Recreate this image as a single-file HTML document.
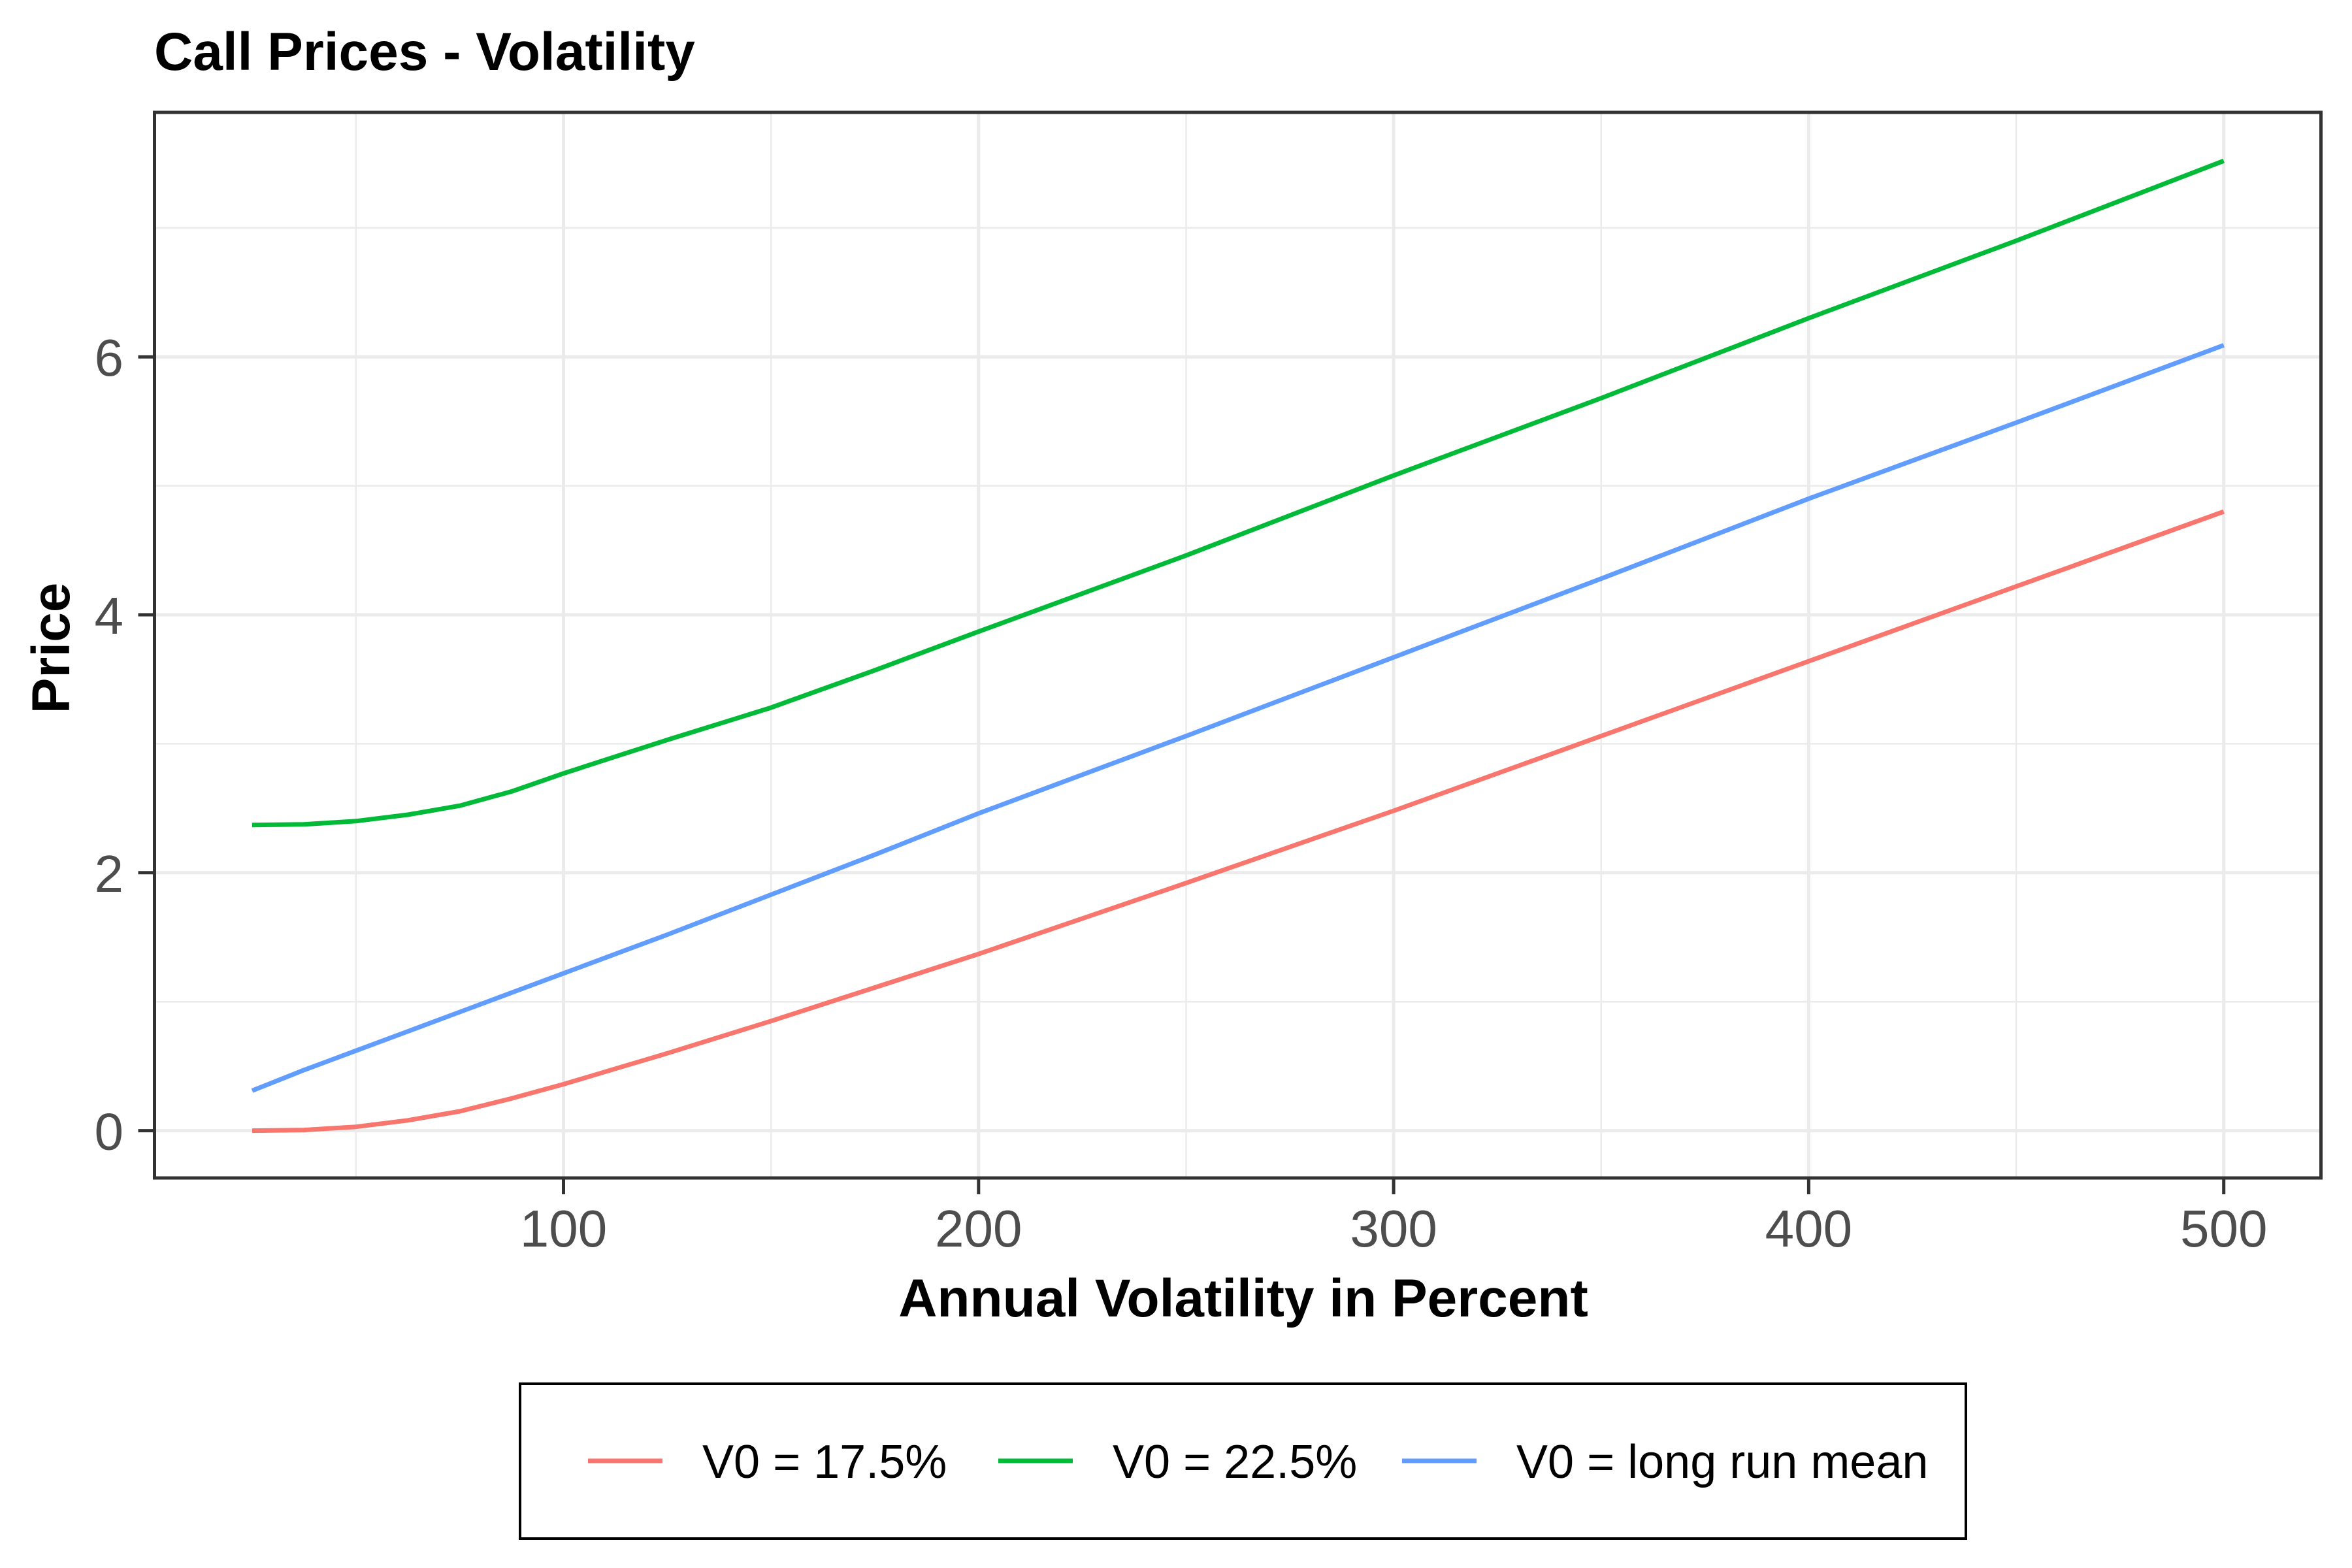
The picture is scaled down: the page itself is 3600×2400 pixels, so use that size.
<!DOCTYPE html>
<html><head><meta charset="utf-8"><style>
html,body{margin:0;padding:0;background:#fff;}
svg{display:block;font-family:"Liberation Sans",Arial,sans-serif;}
</style></head><body>
<svg id="chart" width="3600" height="2400" viewBox="0 0 3600 2400" xmlns="http://www.w3.org/2000/svg">
<rect width="3600" height="2400" fill="#fff"/>
<text x="236" y="107" font-size="82" font-weight="bold" fill="#000">Call Prices - Volatility</text>
<g id="grid"></g>
<g id="series"></g>
<rect x="236.5" y="172" width="3316" height="1631" fill="none" stroke="#333" stroke-width="5"/>
<g id="axes"></g>
<text x="1903" y="2015" font-size="82" font-weight="bold" text-anchor="middle" fill="#000">Annual Volatility in Percent</text>
<text transform="translate(106,992) rotate(-90)" font-size="82" font-weight="bold" text-anchor="middle" fill="#000">Price</text>
<g id="legend">
<rect x="796" y="2118" width="2213" height="237" fill="#fff" stroke="#000" stroke-width="4"/>
</g>
</svg>
<script>
const xVals = [25, 37.5, 50, 62.5, 75, 87.5, 100, 112.5, 125, 150, 175, 200, 250, 300, 350, 400, 450, 500];
const redVals = [0.00, 0.005, 0.03, 0.08, 0.15, 0.25, 0.36, 0.48, 0.60, 0.85, 1.11, 1.37, 1.92, 2.48, 3.06, 3.64, 4.22, 4.80];
const greenVals = [2.37, 2.375, 2.40, 2.45, 2.52, 2.63, 2.77, 2.90, 3.03, 3.28, 3.57, 3.87, 4.46, 5.08, 5.68, 6.30, 6.90, 7.52];
const blueVals = [0.31, 0.47, 0.62, 0.77, 0.92, 1.07, 1.22, 1.37, 1.52, 1.83, 2.14, 2.46, 3.06, 3.67, 4.28, 4.90, 5.49, 6.09];
const xTicks = [100, 200, 300, 400, 500];
const xMinor = [50, 150, 250, 350, 450];
const yTicks = [0, 2, 4, 6];
const yMinor = [1, 3, 5, 7];
const seriesNames = ["V0 = 17.5%", "V0 = 22.5%", "V0 = long run mean"];

const NS = "http://www.w3.org/2000/svg";
const colors = ["#F8766D", "#00BA38", "#619CFF"];
const L = 236.5, R = 3552.5, T = 172, B = 1803;
function xs(v){ return 862.5 + (v - 100) * 6.353; }
function ys(v){ return 1730.6 - v * 197.4; }
function mk(tag, attrs, parent){ const e = document.createElementNS(NS, tag); for (const k in attrs) e.setAttribute(k, attrs[k]); parent.appendChild(e); return e; }

const grid = document.getElementById('grid');
yMinor.forEach(v => { const l = mk('line', {x1:L, x2:R, y1:ys(v), y2:ys(v), stroke:'#EBEBEB', 'stroke-width':2.5}, grid);
    });
xMinor.forEach(v => { const l = mk('line', {x1:xs(v), x2:xs(v), y1:T, y2:B, stroke:'#EBEBEB', 'stroke-width':2.5}, grid);
    });
yTicks.forEach(v => { const l = mk('line', {x1:L, x2:R, y1:ys(v), y2:ys(v), stroke:'#EBEBEB', 'stroke-width':5}, grid);
    });
xTicks.forEach(v => { const l = mk('line', {x1:xs(v), x2:xs(v), y1:T, y2:B, stroke:'#EBEBEB', 'stroke-width':5}, grid);
    });

const series = document.getElementById('series');
[redVals, greenVals, blueVals].forEach((vals, i) => {
  const d = vals.map((v, j) => (j ? 'L' : 'M') + xs(xVals[j]).toFixed(1) + ',' + ys(v).toFixed(1)).join(' ');
  const p = mk('path', {d:d, fill:'none', stroke:colors[i], 'stroke-width':7, 'stroke-linejoin':'round'}, series);
  
  
});

const axes = document.getElementById('axes');
xTicks.forEach(v => {
  const t = mk('line', {x1:xs(v), x2:xs(v), y1:B, y2:B + 25, stroke:'#333', 'stroke-width':5}, axes);
   
  const tx = mk('text', {x:xs(v), y:1908, 'font-size':80, 'text-anchor':'middle', fill:'#4D4D4D'}, axes);
  tx.textContent = v;
   
});
yTicks.forEach(v => {
  const t = mk('line', {x1:L - 25, x2:L, y1:ys(v), y2:ys(v), stroke:'#333', 'stroke-width':5}, axes);
   
  const tx = mk('text', {x:189, y:ys(v) + 29, 'font-size':80, 'text-anchor':'end', fill:'#4D4D4D'}, axes);
  tx.textContent = v;
   
});

const legend = document.getElementById('legend');
const keyX = [900, 1528, 2146];
seriesNames.forEach((n, i) => {
  const k = mk('line', {x1:keyX[i], x2:keyX[i] + 114, y1:2236, y2:2236, stroke:colors[i], 'stroke-width':7}, legend);
   
  const tx = mk('text', {x:keyX[i] + 175, y:2262, 'font-size':72, fill:'#000'}, legend);
  tx.textContent = n;
   
});
</script>
</body></html>
